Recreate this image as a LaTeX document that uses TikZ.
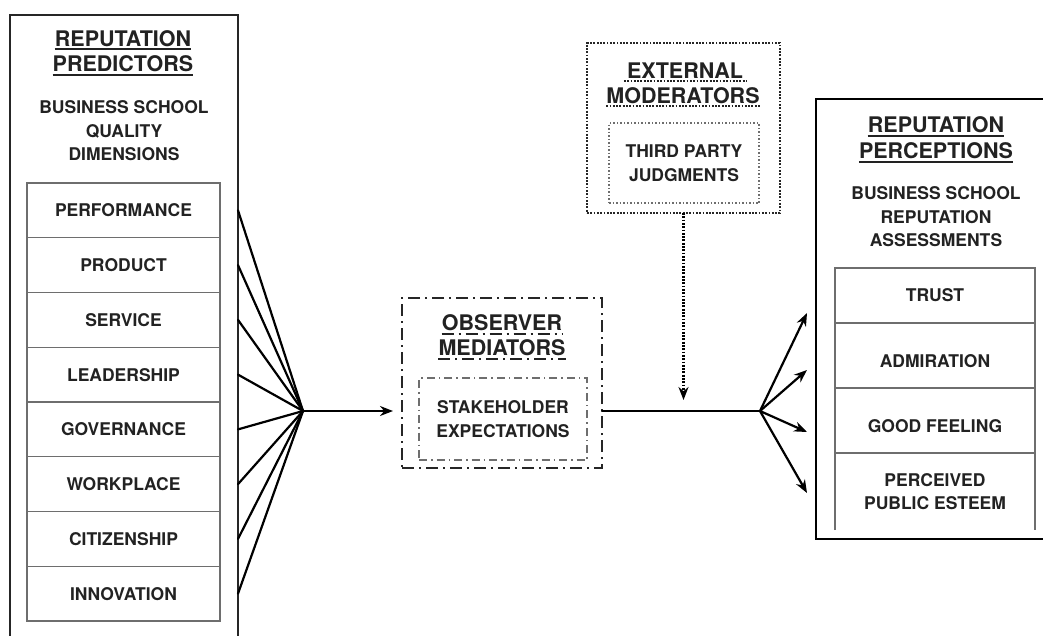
\documentclass[tikz,border=0pt]{standalone}
\usepackage{fontspec}
\setmainfont{TeX Gyre Heros}
\usetikzlibrary{arrows.meta,positioning}

\definecolor{ink}{HTML}{222222}
\definecolor{rowgray}{HTML}{6E6E6E}

\newcommand{\headfont}{\fontsize{21.5}{26}\selectfont\bfseries}
\newcommand{\rowfont}{\fontsize{17.5}{23.5}\selectfont\bfseries}

\begin{document}
\begin{tikzpicture}[x=1pt,y=-1pt,>={Stealth[length=13pt,width=10pt]},
  head/.style={font=\headfont,text=ink,inner sep=0pt},
  subhead/.style={font=\rowfont,text=ink,align=center,inner sep=0pt},
  rowbox/.style={draw=rowgray,line width=1.4pt,minimum width=193pt,minimum height=54.75pt,
    outer sep=0pt,inner sep=0pt,font=\rowfont,text=ink,align=center},
  frame/.style={draw=black!85,line width=1.8pt,outer sep=0pt,inner sep=0pt},
  uline/.style={draw=ink,line width=2.2pt},
  dashdot/.style={dash pattern=on 12pt off 5pt on 2pt off 5pt},
  finedashdot/.style={dash pattern=on 8pt off 4pt on 1.5pt off 4pt},
  dotline/.style={line width=2.2pt,dash pattern=on 1.8pt off 1.5pt},
  fanline/.style={line width=2.2pt,line cap=round}]
\useasboundingbox (0,0) rectangle (1043,635);

% === Reputation predictors (left) ===
\node[frame,minimum width=228pt,minimum height=625pt,anchor=north west] (pred) at (10,15) {};
\node[head] (pl1) at (123,38.5) {REPUTATION};
\node[head] (pl2) at (123,64) {PREDICTORS};
\draw[uline] ([yshift=-3pt]pl1.base west) -- ([yshift=-3pt]pl1.base east);
\draw[uline] ([yshift=-3pt]pl2.base west) -- ([yshift=-3pt]pl2.base east);
\node[subhead] (psub) at (124,131) {BUSINESS SCHOOL\\QUALITY\\DIMENSIONS};

% quality dimensions
\foreach \lbl [count=\i] in {PERFORMANCE,PRODUCT,SERVICE,LEADERSHIP,GOVERNANCE,WORKPLACE,CITIZENSHIP,INNOVATION}
  \node[rowbox] (q\i) at (123.5,{155.625+\i*54.75}) {\lbl};

% fan into the mediators
\coordinate (fanL) at (303,411);
\foreach \i in {1,...,8}
  \draw[fanline] (q\i.center -| pred.east) -- (fanL);

% === Observer mediators (middle) ===
\node[frame,dashdot,line width=2.2pt,minimum width=200pt,minimum height=170pt] (obs) at (502,383) {};
\node[head] (ob1) at (502,323) {OBSERVER};
\node[head] (ob2) at (502,348) {MEDIATORS};
\draw[uline,dashdot] ([yshift=-3pt]ob1.base west) -- ([yshift=-3pt]ob1.base east);
\draw[uline,dashdot] ([yshift=-3pt]ob2.base west) -- ([yshift=-3pt]ob2.base east);
\node[rowbox,finedashdot,line width=1.3pt,minimum width=168pt,minimum height=82pt] (stake) at (503,419) {STAKEHOLDER\\EXPECTATIONS};

\draw[->,fanline,shorten >=9pt] (fanL) -- (fanL -| obs.west);
\coordinate (fanR) at (760,411);
\draw[fanline] (fanL -| obs.east) -- (fanR);

% === External moderators (top) ===
\node[frame,dotline,minimum width=193pt,minimum height=170pt] (ext) at (683.5,128) {};
\node[head] (ex1) at (685,70.5) {EXTERNAL};
\node[head] (ex2) at (683,95.5) {MODERATORS};
\draw[uline,dotline] ([yshift=-2.5pt,xshift=-3pt]ex1.base west) -- ([yshift=-2.5pt,xshift=3pt]ex1.base east);
\draw[uline,dotline] ([yshift=-2.5pt]ex2.base west) -- ([yshift=-2.5pt]ex2.base east);
\node[rowbox,line width=1.3pt,dash pattern=on 1.5pt off 2pt,minimum width=150pt,minimum height=80pt] (third) at (684,163) {THIRD PARTY\\JUDGMENTS};
\draw[dotline,->,shorten >=11pt] (ext.south) -- (ext.south |- fanR);

% === Reputation perceptions (right) ===
% box runs off the right edge of the page
\node[frame,draw=none,minimum width=227pt,minimum height=440pt,anchor=north west] (perc) at (816,99) {};
\draw[draw=black,line width=2.6pt] (perc.north east) -- (perc.north west)
  -- (perc.south west) -- (perc.south east);
\node[head] (pr1) at (936,125) {REPUTATION};
\node[head] (pr2) at (936,151) {PERCEPTIONS};
\draw[uline] ([yshift=-3pt]pr1.base west) -- ([yshift=-3pt]pr1.base east);
\draw[uline] ([yshift=-3pt]pr2.base west) -- ([yshift=-3pt]pr2.base east);
\node[subhead] (prsub) at (936,217) {BUSINESS SCHOOL\\REPUTATION\\ASSESSMENTS};

\node[rowbox,minimum width=200pt,minimum height=55pt] (trust) at (935,295.5) {TRUST};
\node[rowbox,minimum width=200pt,minimum height=65pt,text height=25pt,below=0pt of trust] (admir) {ADMIRATION};
\node[rowbox,minimum width=200pt,minimum height=65pt,text height=25pt,below=0pt of admir] (good) {GOOD FEELING};
\node[rowbox,draw=none,minimum width=200pt,minimum height=77pt,below=0pt of good] (esteem) {PERCEIVED\\PUBLIC ESTEEM};
\draw[draw=rowgray,line width=1.4pt] (esteem.south west) -- (esteem.north west)
  (esteem.north east) -- (esteem.south east);

% fan out to the perceptions
\foreach \y [count=\j] in {313,370,432,493}
  \coordinate (tip\j) at (807,\y);
\foreach \j in {1,...,4}
  \draw[->,fanline] (fanR) -- (tip\j);
\end{tikzpicture}
\end{document}
